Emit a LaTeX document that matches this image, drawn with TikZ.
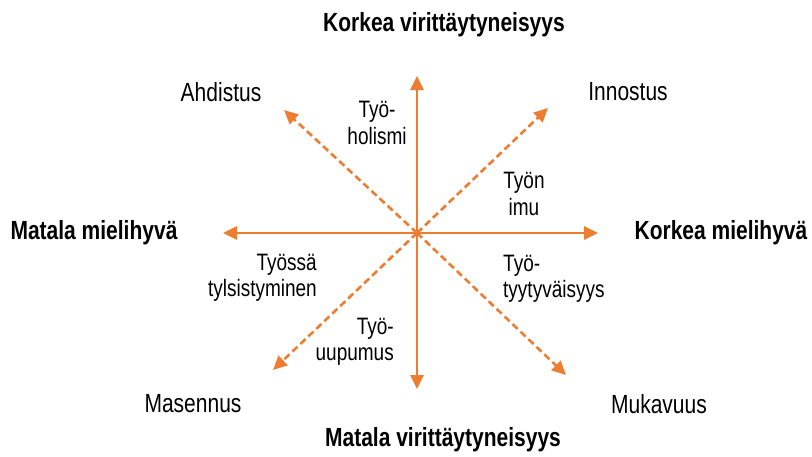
\documentclass[tikz,border=0pt]{standalone}
\usepackage{fontspec}
\setmainfont{Liberation Sans}
\usetikzlibrary{arrows.meta}
\definecolor{axisorange}{HTML}{ED7D31}

% lettering is set a little taller than its natural shape
\newcommand{\tall}[1]{\scalebox{1}[1.25]{#1}}

\tikzset{
  axis/.style={draw=axisorange, line width=2.6pt,
    -{Triangle[length=14pt,width=13pt]}},
  diag/.style={axis, dash pattern=on 7pt off 4pt},
  pole/.style={font=\fontsize{21}{24}\selectfont\bfseries, inner sep=0pt},
  corner/.style={font=\fontsize{21}{24}\selectfont, inner sep=0pt},
  inner/.style={font=\fontsize{19}{26.5}\selectfont, inner sep=0pt},
}

\begin{document}
\begin{tikzpicture}[x=1pt,y=-1pt]
\useasboundingbox[fill=white] (0,0) rectangle (812,456);

% centre of the cross and the arrow tips
\coordinate (c)  at (417,233);
\coordinate (n)  at (417,76);
\coordinate (s)  at (417,389);
\coordinate (w)  at (223,233);
\coordinate (e)  at (598,233);
\coordinate (nw) at (284,110);
\coordinate (ne) at (548,108);
\coordinate (sw) at (273,370);
\coordinate (se) at (566,375);

% solid axes
\draw[axis] (c) -- (n);
\draw[axis] (c) -- (s);
\draw[axis] (c) -- (w);
\draw[axis] (c) -- (e);

% dashed diagonals
\draw[diag] (c) -- (nw);
\draw[diag] (c) -- (ne);
\draw[diag] (c) -- (sw);
\draw[diag] (c) -- (se);

% axis poles
\node[pole] (top)   at (444,25)  {\tall{Korkea virittäytyneisyys}};
\node[pole] (bot)   at (443,440) {\tall{Matala virittäytyneisyys}};
\node[pole] (left)  at (94,233)  {\tall{Matala mielihyvä}};
\node[pole] (right) at (721,233) {\tall{Korkea mielihyvä}};

% corner states
\node[corner] (ahd) at (221,92)  {\tall{Ahdistus}};
\node[corner] (inn) at (628,92)  {\tall{Innostus}};
\node[corner] (mas) at (193,404) {\tall{Masennus}};
\node[corner] (muk) at (659,404) {\tall{Mukavuus}};

% labels along the diagonals (anchored on the baseline of their last line)
\node[inner, align=center, anchor=base] (hol) at (377,144)
  {\tall{Työ-}\\\tall{holismi}};
\node[inner, align=center, anchor=base] (imu) at (524,215)
  {\tall{Työn}\\\tall{imu}};
\node[inner, align=right, anchor=base east] (tyl) at (317,296.5)
  {\tall{Työssä}\\\tall{tylsistyminen}};
\node[inner, align=left, anchor=base west] (tyy) at (503,297.5)
  {\tall{Työ-}\\\tall{tyytyväisyys}};
\node[inner, align=right, anchor=base east] (uup) at (394,360.5)
  {\tall{Työ-}\\\tall{uupumus}};
\end{tikzpicture}
\end{document}
